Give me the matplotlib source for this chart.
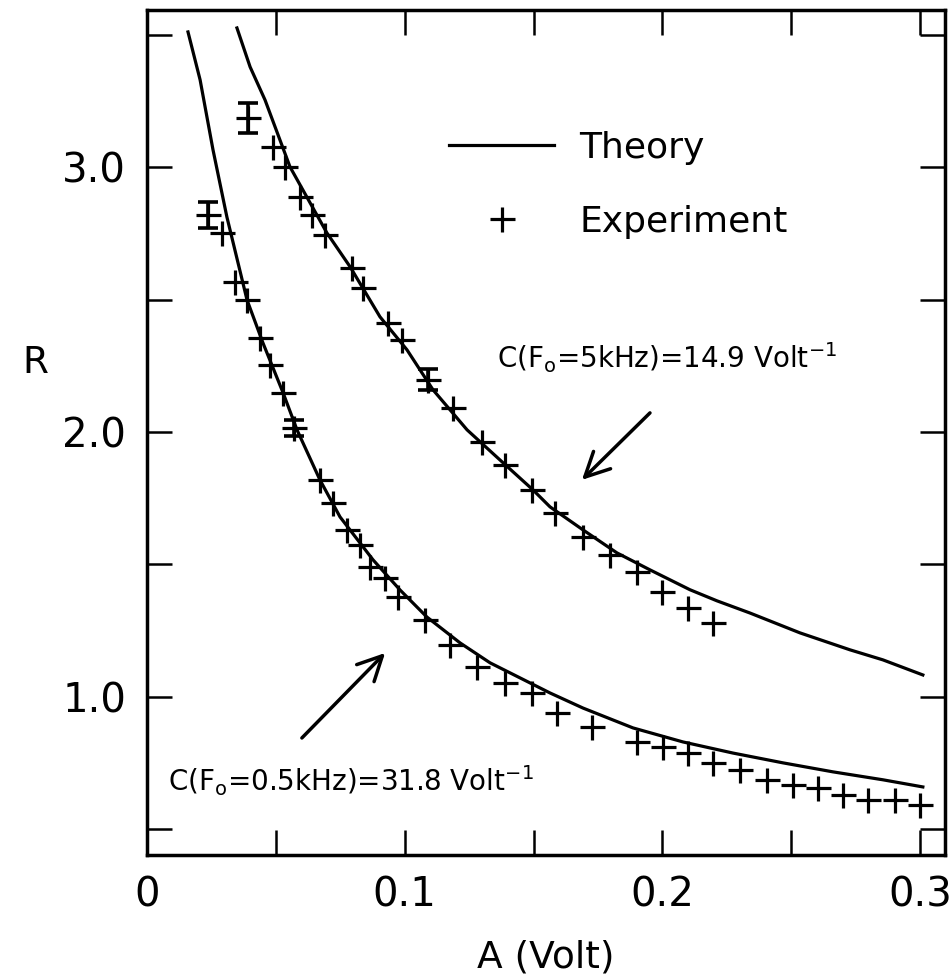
import numpy as np
import matplotlib
matplotlib.use("Agg")
import matplotlib.pyplot as plt

plt.rcParams["font.family"] = ["DejaVu Sans"]
plt.rcParams["mathtext.default"] = "regular"

# theory curves
theory_hi_x = [0.0349, 0.0400, 0.0458, 0.0555, 0.0698, 0.0788, 0.0904, 0.1009, 0.1110,
               0.1242, 0.1370, 0.1498, 0.1564, 0.1692, 0.1824, 0.1952, 0.2107, 0.2212,
               0.2340, 0.2534, 0.2728, 0.2856, 0.3011]
theory_hi_y = [3.526, 3.379, 3.254, 3.001, 2.752, 2.624, 2.435, 2.310, 2.159,
               2.008, 1.894, 1.781, 1.717, 1.630, 1.543, 1.479, 1.404, 1.362,
               1.316, 1.241, 1.177, 1.139, 1.082]

theory_lo_x = [0.0159, 0.0206, 0.0256, 0.0310, 0.0388, 0.0450, 0.0528, 0.0582, 0.0671,
               0.0749, 0.0877, 0.0982, 0.1086, 0.1215, 0.1331, 0.1564, 0.1692, 0.1886,
               0.2080, 0.2274, 0.2468, 0.2662, 0.2856, 0.3011]
theory_lo_y = [3.511, 3.330, 3.066, 2.812, 2.499, 2.336, 2.148, 2.008, 1.819,
               1.679, 1.517, 1.403, 1.301, 1.203, 1.128, 1.014, 0.957, 0.882,
               0.829, 0.787, 0.750, 0.716, 0.686, 0.659]

# experiment, F0 = 5 kHz
exp_hi_x = [0.0392, 0.0489, 0.0536, 0.0594, 0.0640, 0.0691, 0.0796, 0.0838, 0.0935, 0.0990,
            0.1090, 0.1187, 0.1300, 0.1389, 0.1494, 0.1583, 0.1692, 0.1797, 0.1901, 0.1998,
            0.2099, 0.2196]
exp_hi_y = [3.186, 3.077, 3.001, 2.888, 2.820, 2.744, 2.620, 2.544, 2.412, 2.348,
            2.197, 2.091, 1.962, 1.876, 1.781, 1.694, 1.604, 1.536, 1.471, 1.396,
            1.335, 1.279]
exp_hi_err = [0.057, 0, 0, 0, 0, 0, 0, 0, 0, 0,
              0.04, 0, 0, 0, 0, 0, 0, 0, 0, 0,
              0, 0]

# experiment, F0 = 0.5 kHz
exp_lo_x = [0.0237, 0.0291, 0.0341, 0.0388, 0.0438, 0.0477, 0.0528, 0.0570, 0.0671, 0.0722,
            0.0776, 0.0827, 0.0865, 0.0924, 0.0974, 0.1079, 0.1176, 0.1281, 0.1389, 0.1494,
            0.1591, 0.1727, 0.1901, 0.2002, 0.2099, 0.2196, 0.2301, 0.2406, 0.2507, 0.2604,
            0.2701, 0.2798, 0.2903, 0.3000]
exp_lo_y = [2.820, 2.752, 2.567, 2.499, 2.355, 2.253, 2.148, 2.015, 1.819, 1.732,
            1.630, 1.573, 1.490, 1.449, 1.377, 1.290, 1.196, 1.112, 1.052, 1.014,
            0.939, 0.886, 0.829, 0.810, 0.788, 0.750, 0.723, 0.685, 0.667, 0.655,
            0.629, 0.610, 0.610, 0.591]
exp_lo_err = [0.05, 0, 0, 0, 0, 0, 0, 0.03, 0, 0,
              0, 0, 0, 0, 0, 0, 0, 0, 0, 0,
              0, 0, 0, 0, 0, 0, 0, 0, 0, 0,
              0, 0, 0, 0]

x_major = [0, 0.1, 0.2, 0.3]
x_labels = ["0", "0.1", "0.2", "0.3"]
x_minor = [0.05, 0.15, 0.25]
y_major = [1.0, 2.0, 3.0]
y_labels = ["1.0", "2.0", "3.0"]
y_minor = [0.5, 1.5, 2.5, 3.5]

fig = plt.figure(figsize=(9.51, 9.77), dpi=100)
ax = fig.add_axes([0.1546, 0.1249, 0.8391, 0.8649])

ax.plot(theory_hi_x, theory_hi_y, color="k", lw=2.3, label="Theory")
ax.plot(theory_lo_x, theory_lo_y, color="k", lw=2.3)

mk = dict(marker="+", ls="none", color="k", ms=18, mew=2.3)
ax.plot(exp_hi_x, exp_hi_y, label="Experiment", **mk)
ax.plot(exp_lo_x, exp_lo_y, **mk)

# points that carry an error bar
for xs, ys, es in [(exp_hi_x, exp_hi_y, exp_hi_err), (exp_lo_x, exp_lo_y, exp_lo_err)]:
    xs, ys, es = np.array(xs), np.array(ys), np.array(es)
    m = es > 0
    ax.errorbar(xs[m], ys[m], yerr=es[m], fmt="none", ecolor="k",
                elinewidth=2.6, capsize=7, capthick=2.6)

ax.set_xlim(0, 0.3097)
ax.set_ylim(0.402, 3.594)

ax.set_xticks(x_major)
ax.set_xticklabels(x_labels)
ax.set_xticks(x_minor, minor=True)
ax.set_yticks(y_major)
ax.set_yticklabels(y_labels)
ax.set_yticks(y_minor, minor=True)
ax.tick_params(which="both", direction="in", length=18, width=1.8,
               top=True, right=True, labelsize=29, pad=15)
for s in ax.spines.values():
    s.set_linewidth(2.5)

ax.set_xlabel("A (Volt)", fontsize=27, va="top")
ax.xaxis.set_label_coords(0.5, -0.10)
ax.set_ylabel("R", fontsize=27, rotation=0, va="center", ha="center")
ax.yaxis.set_label_coords(-0.14, 0.582)

ax.legend(loc="upper left", bbox_to_anchor=(0.379, 0.857), frameon=False,
          fontsize=26, handlelength=2.9, handletextpad=0.7, labelspacing=1.1,
          borderpad=0, borderaxespad=0)

ax.text(0.1358, 2.28, "C(F$_o$=5kHz)=14.9 Volt$^{-1}$", fontsize=20, va="center")
ax.text(0.0081, 0.682, "C(F$_o$=0.5kHz)=31.8 Volt$^{-1}$", fontsize=20, va="center")

arrow = dict(arrowstyle="->, head_length=0.5, head_width=0.25", lw=2.5, color="k",
             mutation_scale=35, shrinkA=0, shrinkB=0)
ax.annotate("", xy=(0.1688, 1.819), xytext=(0.1952, 2.072), arrowprops=arrow)
ax.annotate("", xy=(0.0924, 1.165), xytext=(0.0601, 0.844), arrowprops=arrow)

fig.savefig("out.png", dpi=100, facecolor="white")
